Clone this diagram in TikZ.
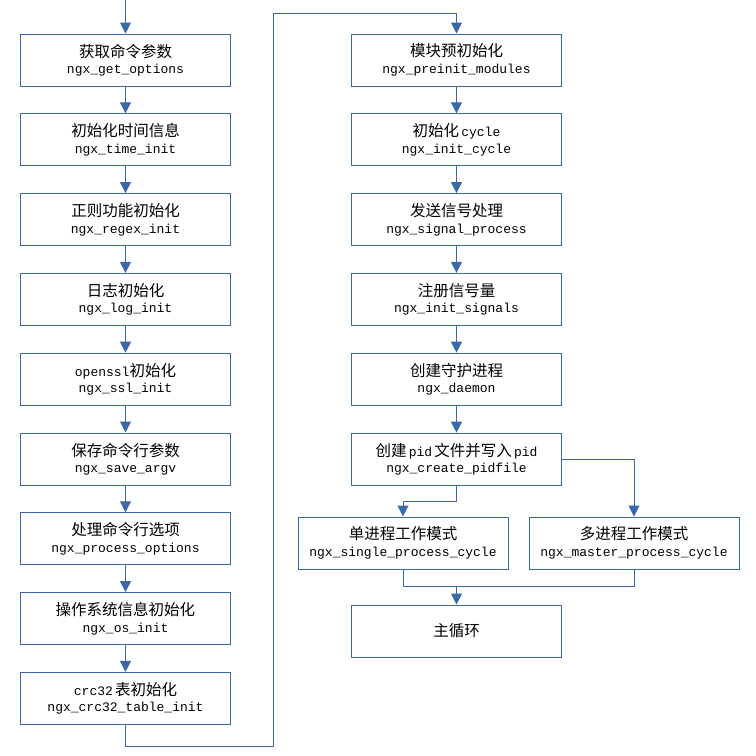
\documentclass[tikz,border=0pt]{standalone}
\usepackage{fontspec}
\setmainfont{Liberation Mono}
\newfontfamily\cjk{Noto Sans CJK SC}
\usetikzlibrary{arrows.meta}
\definecolor{lc}{RGB}{58,104,168}
\newcommand\zh[1]{{\cjk\fontsize{15.5}{16}\selectfont #1}}
\tikzset{
  box/.style={draw=lc, line width=1pt, rectangle, minimum width=210pt, minimum height=52pt,
    align=center, inner sep=0pt, font=\fontsize{13}{16.5}\selectfont, text=black},
  conn/.style={draw=lc, line width=1pt},
  arr/.style={conn, -{Triangle[width=11pt,length=11pt]}}
}
\begin{document}
\begin{tikzpicture}[x=1pt,y=-1pt]
\useasboundingbox (0,0) rectangle (756,756);
% left column
\node[box] (L1) at (125.5,60) {\zh{获取命令参数}\\ngx\_get\_options};
\node[box] (L2) at (125.5,139.8) {\zh{初始化时间信息}\\ngx\_time\_init};
\node[box] (L3) at (125.5,219.6) {\zh{正则功能初始化}\\ngx\_regex\_init};
\node[box] (L4) at (125.5,299.4) {\zh{日志初始化}\\ngx\_log\_init};
\node[box] (L5) at (125.5,379.2) {openssl\zh{初始化}\\ngx\_ssl\_init};
\node[box] (L6) at (125.5,459) {\zh{保存命令行参数}\\ngx\_save\_argv};
\node[box] (L7) at (125.5,538.8) {\zh{处理命令行选项}\\ngx\_process\_options};
\node[box] (L8) at (125.5,618.6) {\zh{操作系统信息初始化}\\ngx\_os\_init};
\node[box] (L9) at (125.5,698.4) {crc32\,\zh{表初始化}\\ngx\_crc32\_table\_init};
% right column
\node[box] (R1) at (456.5,60) {\zh{模块预初始化}\\ngx\_preinit\_modules};
\node[box] (R2) at (456.5,139.8) {\zh{初始化}\,cycle\\ngx\_init\_cycle};
\node[box] (R3) at (456.5,219.6) {\zh{发送信号处理}\\ngx\_signal\_process};
\node[box] (R4) at (456.5,299.4) {\zh{注册信号量}\\ngx\_init\_signals};
\node[box] (R5) at (456.5,379.2) {\zh{创建守护进程}\\ngx\_daemon};
\node[box] (R6) at (456.5,459.2) {\zh{创建}\,pid\,\zh{文件并写入}\,pid\\ngx\_create\_pidfile};
\node[box] (S) at (403,543) {\zh{单进程工作模式}\\ngx\_single\_process\_cycle};
\node[box] (M) at (634,543) {\zh{多进程工作模式}\\ngx\_master\_process\_cycle};
\node[box] (Main) at (456.5,631) {\zh{主循环}};
% connectors
\coordinate (top) at (125.5,0);
\draw[arr] (top) -- (L1);
\foreach \a/\b in {L1/L2,L2/L3,L3/L4,L4/L5,L5/L6,L6/L7,L7/L8,L8/L9,R1/R2,R2/R3,R3/R4,R4/R5,R5/R6}
  \draw[arr] (\a) -- (\b);
\coordinate (c1) at (125.5,746);
\coordinate (c2) at (273.5,746);
\coordinate (c3) at (273.5,13.5);
\coordinate (c4) at (456.5,13.5);
\draw[arr] (L9) -- (c1) -- (c2) -- (c3) -- (c4) -- (R1);
\coordinate (s1) at (456.5,501);
\coordinate (s2) at (403,501);
\draw[arr] (R6) -- (s1) -- (s2) -- (S);
\coordinate (s3) at (634,459.2);
\draw[arr] (R6) -- (s3) -- (M);
\coordinate (m1) at (403,586);
\coordinate (m2) at (634,586);
\coordinate (m3) at (456.5,586);
\draw[conn] (S) -- (m1) -- (m2) -- (M);
\draw[arr] (m3) -- (Main);
\end{tikzpicture}
\end{document}
